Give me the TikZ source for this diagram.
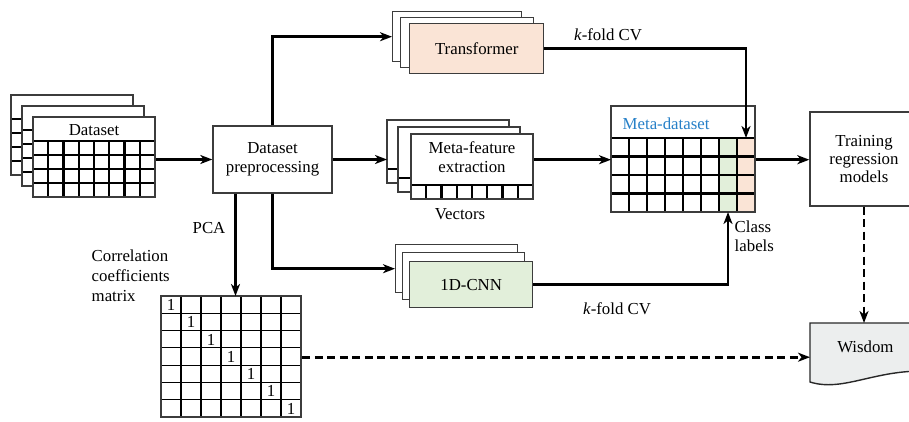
\documentclass[tikz,border=0pt]{standalone}
\usepackage{fontspec}
\setmainfont{Liberation Serif}
\usetikzlibrary{arrows.meta,calc}

\tikzset{every picture/.style={line width=0.75pt}}
\tikzset{
  sheet/.style={draw={rgb, 255:red, 60; green, 60; blue, 60 }, fill=white, line width=1.4pt, inner sep=0pt, anchor=north west},
  gridline/.style={line width=2.2pt, color={rgb, 255:red, 0; green, 0; blue, 0 }},
  thingrid/.style={line width=1.2pt, color={rgb, 255:red, 0; green, 0; blue, 0 }},
  flow/.style={line width=2.6pt, -{Stealth[length=12pt,width=9pt,inset=3.5pt]}},
  dflow/.style={flow, dash pattern=on 8pt off 4.5pt},
  edge/.style={line width=1.4pt, color={rgb, 255:red, 60; green, 60; blue, 60 }},
}

\begin{document}
\begin{tikzpicture}[x=1pt,y=1pt,yscale=-1,font=\fontsize{16.8}{19}\selectfont]
    \useasboundingbox (0,0) rectangle (909,421);

    %Shape: Dataset sheets
    \foreach \n/\sx/\sy in {data1/11/95, data2/22/106, dataset/33/117}{
      \node [sheet, minimum width=122, minimum height=80] (\n) at (\sx,\sy) {};
      \foreach \r in {24,38,52,66} \draw [gridline] (\sx,\sy+\r) -- (\sx+122,\sy+\r);
      \foreach \c in {1,...,7} \draw [gridline] (\sx+\c*15.25,\sy+24) -- (\sx+\c*15.25,\sy+80);
      \draw [edge] (\sx,\sy) rectangle (\sx+122,\sy+80);
    }
    % Text Node
    \node (datatext) at (94,130) {Dataset};

    %Shape: Rectangle
    \node [draw={rgb, 255:red, 60; green, 60; blue, 60 }, line width=1.4pt, minimum width=119, minimum height=67, align=center] (prep) at (272.5,159.5) {Dataset\\preprocessing};

    %Shape: Transformer sheets
    \node [sheet, minimum width=129, minimum height=50] (trans1) at (392,11) {};
    \node [sheet, minimum width=133, minimum height=50] (trans2) at (400,17) {};
    \node [sheet, minimum width=134, minimum height=50, fill={rgb, 255:red, 250; green, 228; blue, 214 }] (trans) at (409,23) {Transformer};

    %Shape: Meta-feature sheets
    \foreach \n/\sx/\sy/\h in {mf1/387/120/63, mf2/398/127/65, mf/411/134/65}{
      \node [sheet, minimum width=122, minimum height=\h] (\n) at (\sx,\sy) {};
      \draw [gridline] (\sx,\sy+\h-14) -- (\sx+122,\sy+\h-14);
      \foreach \c in {1,...,7} \draw [gridline] (\sx+\c*15.25,\sy+\h-14) -- (\sx+\c*15.25,\sy+\h);
      \draw [edge] (\sx,\sy) rectangle (\sx+122,\sy+\h);
    }
    % Text Node
    \node [align=center] (mftext) at (472,157) {Meta-feature\\extraction};
    % Text Node
    \node (vectors) at (460,214) {Vectors};

    %Shape: 1D-CNN sheets
    \node [sheet, minimum width=122, minimum height=48] (cnn1) at (395,244) {};
    \node [sheet, minimum width=122, minimum height=47] (cnn2) at (402,252) {};
    \node [sheet, minimum width=123, minimum height=46, fill={rgb, 255:red, 226; green, 239; blue, 218 }] (cnn) at (409,261) {1D-CNN};

    %Shape: Meta-dataset table
    \node [sheet, minimum width=144, minimum height=106] (meta) at (611,106) {};
    \fill [color={rgb, 255:red, 226; green, 239; blue, 218 }] (719,138) rectangle (737,212);
    \fill [color={rgb, 255:red, 250; green, 228; blue, 214 }] (737,138) rectangle (755,212);
    \foreach \r in {138,156.5,175,193.5} \draw [gridline] (611,\r) -- (755,\r);
    \foreach \c in {629,647,665,683,701,719,737} \draw [gridline] (\c,138) -- (\c,212);
    \draw [edge] (611,106) rectangle (755,212);
    \coordinate (c7) at (728,212);
    \coordinate (c8) at (746,138);
    % Text Node
    \node [anchor=west, text={rgb, 255:red, 38; green, 128; blue, 200 }] (metatitle) at (619,124) {Meta-dataset};

    %Shape: Correlation matrix
    \node [sheet, minimum width=140, minimum height=121] (corr) at (161,296) {};
    \foreach \c in {1,...,6} \draw [thingrid] (161+\c*20,296) -- (161+\c*20,417);
    \foreach \r in {1,...,6} \draw [thingrid] (161,296+\r*17.286) -- (301,296+\r*17.286);
    \foreach \i in {0,...,6} \node (one\i) at (171+\i*20,305+\i*17.286) {1};
    \draw [edge] (161,296) rectangle (301,417);
    % Text Node
    \node [anchor=north west, align=left, font=\fontsize{16.8}{20}\selectfont] (corrtext) at (88,246) {Correlation\\coefficients\\matrix};

    %Shape: Training box
    \node [draw={rgb, 255:red, 60; green, 60; blue, 60 }, line width=1.4pt, minimum width=108, minimum height=94, align=center, font=\fontsize{16.8}{18}\selectfont] (train) at (864,159) {Training\\regression\\models};

    %Shape: Wisdom document
    \draw [line width=1.4pt, color={rgb, 255:red, 40; green, 40; blue, 40 }, fill={rgb, 255:red, 236; green, 238; blue, 238 }] (810,323) -- (922,323) -- (922,371) .. controls (872,371) and (842,392) .. (810,382) -- cycle;
    \node [inner sep=0pt, minimum width=110, minimum height=46, anchor=north west] (wis) at (810,323) {Wisdom};

    %Straight Lines
    \draw [flow] (dataset.east |- prep.west) -- (prep.west);
    \draw [flow] (prep.north) |- (trans1.west);
    \draw [flow] (prep.east) -- (prep.east -| mf1.west);
    \draw [flow] (prep.south) |- (cnn1.west);
    \draw [flow] ([xshift=-37pt]prep.south) -- ([xshift=-37pt]prep.south |- corr.north);
    \draw [flow] (meta.west -| mf.east) -- (meta.west);
    \draw [flow] (trans.east) -| (c8);
    \draw [flow] (cnn.east) -| (c7);
    \draw [flow] (meta.east) -- (meta.east -| train.west);
    \draw [dflow] (train.south) -- (train.south |- wis.north);
    \draw [dflow] (corr.east) -- (corr.east -| wis.west);

    % Text Node
    \node (pca) at (209,228) {PCA};
    % Text Node
    \node (cvtop) at (608,35) {\textit{k}-fold CV};
    % Text Node
    \node (cvbot) at (617,309) {\textit{k}-fold CV};
    % Text Node
    \node [anchor=north west, align=left] (classlab) at (731,217) {Class\\labels};

\end{tikzpicture}
\end{document}
